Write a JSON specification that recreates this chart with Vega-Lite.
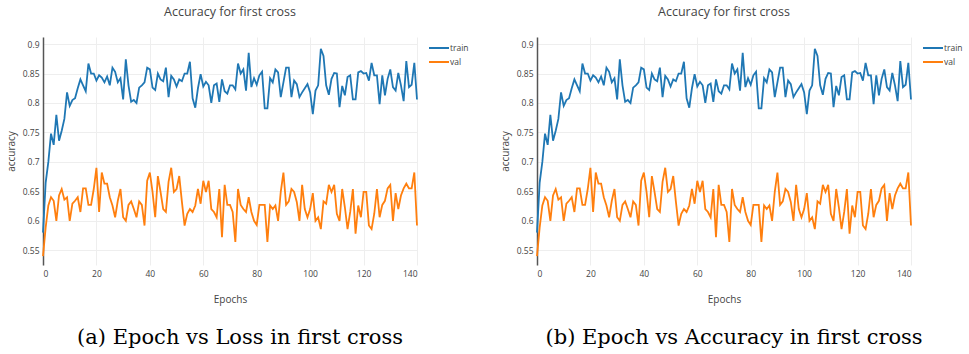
{
  "$schema": "https://vega.github.io/schema/vega-lite/v6.json",
  "background": "white",
  "padding": {"left": 6, "top": 5, "right": 0, "bottom": 0},
  "config": {
    "view": {"stroke": null},
    "font": "Open Sans",
    "axis": {"labelFont": "Open Sans", "labelFontSize": 8.5, "labelColor": "#444444", "titleFont": "Open Sans", "titleFontSize": 10, "titleFontWeight": "normal", "titleColor": "#444444", "gridColor": "#eeeeee", "gridWidth": 1, "ticks": false, "domain": false, "labelPadding": 4},
    "legend": {"title": null, "symbolType": "M-2,0H2", "symbolSize": 100, "symbolStrokeWidth": 2, "labelFont": "Open Sans", "labelFontSize": 8.5, "labelColor": "#444444", "offset": 7, "padding": 5, "rowPadding": 3, "labelOffset": 5},
    "title": {"font": "Open Sans", "fontSize": 12.5, "fontWeight": "normal", "color": "#444444", "offset": 19}
  },
  "datasets": {
    "acc": [
      {"epoch":0,"split":"train","accuracy":0.58},{"epoch":1,"split":"train","accuracy":0.665},{"epoch":2,"split":"train","accuracy":0.70},{"epoch":3,"split":"train","accuracy":0.748},{"epoch":4,"split":"train","accuracy":0.729},{"epoch":5,"split":"train","accuracy":0.78},{"epoch":6,"split":"train","accuracy":0.736},{"epoch":7,"split":"train","accuracy":0.753},{"epoch":8,"split":"train","accuracy":0.773},{"epoch":9,"split":"train","accuracy":0.818},
      {"epoch":10,"split":"train","accuracy":0.795},{"epoch":11,"split":"train","accuracy":0.805},{"epoch":12,"split":"train","accuracy":0.808},{"epoch":13,"split":"train","accuracy":0.825},{"epoch":14,"split":"train","accuracy":0.84},{"epoch":15,"split":"train","accuracy":0.83},{"epoch":16,"split":"train","accuracy":0.82},{"epoch":17,"split":"train","accuracy":0.867},{"epoch":18,"split":"train","accuracy":0.85},{"epoch":19,"split":"train","accuracy":0.85},
      {"epoch":20,"split":"train","accuracy":0.838},{"epoch":21,"split":"train","accuracy":0.847},{"epoch":22,"split":"train","accuracy":0.843},{"epoch":23,"split":"train","accuracy":0.835},{"epoch":24,"split":"train","accuracy":0.845},{"epoch":25,"split":"train","accuracy":0.83},{"epoch":26,"split":"train","accuracy":0.86},{"epoch":27,"split":"train","accuracy":0.853},{"epoch":28,"split":"train","accuracy":0.835},{"epoch":29,"split":"train","accuracy":0.842},
      {"epoch":30,"split":"train","accuracy":0.806},{"epoch":31,"split":"train","accuracy":0.874},{"epoch":32,"split":"train","accuracy":0.83},{"epoch":33,"split":"train","accuracy":0.802},{"epoch":34,"split":"train","accuracy":0.805},{"epoch":35,"split":"train","accuracy":0.80},{"epoch":36,"split":"train","accuracy":0.826},{"epoch":37,"split":"train","accuracy":0.83},{"epoch":38,"split":"train","accuracy":0.835},{"epoch":39,"split":"train","accuracy":0.86},
      {"epoch":40,"split":"train","accuracy":0.857},{"epoch":41,"split":"train","accuracy":0.826},{"epoch":42,"split":"train","accuracy":0.822},{"epoch":43,"split":"train","accuracy":0.85},{"epoch":44,"split":"train","accuracy":0.84},{"epoch":45,"split":"train","accuracy":0.837},{"epoch":46,"split":"train","accuracy":0.86},{"epoch":47,"split":"train","accuracy":0.81},{"epoch":48,"split":"train","accuracy":0.846},{"epoch":49,"split":"train","accuracy":0.84},
      {"epoch":50,"split":"train","accuracy":0.828},{"epoch":51,"split":"train","accuracy":0.84},{"epoch":52,"split":"train","accuracy":0.837},{"epoch":53,"split":"train","accuracy":0.85},{"epoch":54,"split":"train","accuracy":0.85},{"epoch":55,"split":"train","accuracy":0.87},{"epoch":56,"split":"train","accuracy":0.808},{"epoch":57,"split":"train","accuracy":0.792},{"epoch":58,"split":"train","accuracy":0.825},{"epoch":59,"split":"train","accuracy":0.849},
      {"epoch":60,"split":"train","accuracy":0.828},{"epoch":61,"split":"train","accuracy":0.836},{"epoch":62,"split":"train","accuracy":0.83},{"epoch":63,"split":"train","accuracy":0.80},{"epoch":64,"split":"train","accuracy":0.83},{"epoch":65,"split":"train","accuracy":0.833},{"epoch":66,"split":"train","accuracy":0.802},{"epoch":67,"split":"train","accuracy":0.84},{"epoch":68,"split":"train","accuracy":0.82},{"epoch":69,"split":"train","accuracy":0.816},
      {"epoch":70,"split":"train","accuracy":0.83},{"epoch":71,"split":"train","accuracy":0.83},{"epoch":72,"split":"train","accuracy":0.823},{"epoch":73,"split":"train","accuracy":0.867},{"epoch":74,"split":"train","accuracy":0.85},{"epoch":75,"split":"train","accuracy":0.857},{"epoch":76,"split":"train","accuracy":0.821},{"epoch":77,"split":"train","accuracy":0.885},{"epoch":78,"split":"train","accuracy":0.827},{"epoch":79,"split":"train","accuracy":0.842},
      {"epoch":80,"split":"train","accuracy":0.831},{"epoch":81,"split":"train","accuracy":0.847},{"epoch":82,"split":"train","accuracy":0.853},{"epoch":83,"split":"train","accuracy":0.791},{"epoch":84,"split":"train","accuracy":0.791},{"epoch":85,"split":"train","accuracy":0.842},{"epoch":86,"split":"train","accuracy":0.835},{"epoch":87,"split":"train","accuracy":0.857},{"epoch":88,"split":"train","accuracy":0.852},{"epoch":89,"split":"train","accuracy":0.81},
      {"epoch":90,"split":"train","accuracy":0.835},{"epoch":91,"split":"train","accuracy":0.86},{"epoch":92,"split":"train","accuracy":0.86},{"epoch":93,"split":"train","accuracy":0.81},{"epoch":94,"split":"train","accuracy":0.838},{"epoch":95,"split":"train","accuracy":0.832},{"epoch":96,"split":"train","accuracy":0.81},{"epoch":97,"split":"train","accuracy":0.818},{"epoch":98,"split":"train","accuracy":0.825},{"epoch":99,"split":"train","accuracy":0.832},
      {"epoch":100,"split":"train","accuracy":0.818},{"epoch":101,"split":"train","accuracy":0.781},{"epoch":102,"split":"train","accuracy":0.821},{"epoch":103,"split":"train","accuracy":0.83},{"epoch":104,"split":"train","accuracy":0.892},{"epoch":105,"split":"train","accuracy":0.88},{"epoch":106,"split":"train","accuracy":0.83},{"epoch":107,"split":"train","accuracy":0.814},{"epoch":108,"split":"train","accuracy":0.841},{"epoch":109,"split":"train","accuracy":0.851},
      {"epoch":110,"split":"train","accuracy":0.85},{"epoch":111,"split":"train","accuracy":0.793},{"epoch":112,"split":"train","accuracy":0.829},{"epoch":113,"split":"train","accuracy":0.813},{"epoch":114,"split":"train","accuracy":0.844},{"epoch":115,"split":"train","accuracy":0.847},{"epoch":116,"split":"train","accuracy":0.806},{"epoch":117,"split":"train","accuracy":0.806},{"epoch":118,"split":"train","accuracy":0.852},{"epoch":119,"split":"train","accuracy":0.854},
      {"epoch":120,"split":"train","accuracy":0.85},{"epoch":121,"split":"train","accuracy":0.851},{"epoch":122,"split":"train","accuracy":0.838},{"epoch":123,"split":"train","accuracy":0.868},{"epoch":124,"split":"train","accuracy":0.847},{"epoch":125,"split":"train","accuracy":0.847},{"epoch":126,"split":"train","accuracy":0.798},{"epoch":127,"split":"train","accuracy":0.847},{"epoch":128,"split":"train","accuracy":0.813},{"epoch":129,"split":"train","accuracy":0.841},
      {"epoch":130,"split":"train","accuracy":0.857},{"epoch":131,"split":"train","accuracy":0.827},{"epoch":132,"split":"train","accuracy":0.821},{"epoch":133,"split":"train","accuracy":0.851},{"epoch":134,"split":"train","accuracy":0.83},{"epoch":135,"split":"train","accuracy":0.803},{"epoch":136,"split":"train","accuracy":0.871},{"epoch":137,"split":"train","accuracy":0.827},{"epoch":138,"split":"train","accuracy":0.831},{"epoch":139,"split":"train","accuracy":0.868},
      {"epoch":140,"split":"train","accuracy":0.806},
      {"epoch":0,"split":"val","accuracy":0.54},{"epoch":1,"split":"val","accuracy":0.589},{"epoch":2,"split":"val","accuracy":0.626},{"epoch":3,"split":"val","accuracy":0.64},{"epoch":4,"split":"val","accuracy":0.634},{"epoch":5,"split":"val","accuracy":0.60},{"epoch":6,"split":"val","accuracy":0.643},{"epoch":7,"split":"val","accuracy":0.654},{"epoch":8,"split":"val","accuracy":0.636},{"epoch":9,"split":"val","accuracy":0.64},
      {"epoch":10,"split":"val","accuracy":0.60},{"epoch":11,"split":"val","accuracy":0.629},{"epoch":12,"split":"val","accuracy":0.634},{"epoch":13,"split":"val","accuracy":0.64},{"epoch":14,"split":"val","accuracy":0.615},{"epoch":15,"split":"val","accuracy":0.655},{"epoch":16,"split":"val","accuracy":0.655},{"epoch":17,"split":"val","accuracy":0.627},{"epoch":18,"split":"val","accuracy":0.627},{"epoch":19,"split":"val","accuracy":0.654},
      {"epoch":20,"split":"val","accuracy":0.69},{"epoch":21,"split":"val","accuracy":0.615},{"epoch":22,"split":"val","accuracy":0.682},{"epoch":23,"split":"val","accuracy":0.663},{"epoch":24,"split":"val","accuracy":0.663},{"epoch":25,"split":"val","accuracy":0.64},{"epoch":26,"split":"val","accuracy":0.626},{"epoch":27,"split":"val","accuracy":0.606},{"epoch":28,"split":"val","accuracy":0.634},{"epoch":29,"split":"val","accuracy":0.654},
      {"epoch":30,"split":"val","accuracy":0.606},{"epoch":31,"split":"val","accuracy":0.60},{"epoch":32,"split":"val","accuracy":0.627},{"epoch":33,"split":"val","accuracy":0.633},{"epoch":34,"split":"val","accuracy":0.62},{"epoch":35,"split":"val","accuracy":0.606},{"epoch":36,"split":"val","accuracy":0.633},{"epoch":37,"split":"val","accuracy":0.627},{"epoch":38,"split":"val","accuracy":0.592},{"epoch":39,"split":"val","accuracy":0.668},
      {"epoch":40,"split":"val","accuracy":0.682},{"epoch":41,"split":"val","accuracy":0.649},{"epoch":42,"split":"val","accuracy":0.606},{"epoch":43,"split":"val","accuracy":0.676},{"epoch":44,"split":"val","accuracy":0.649},{"epoch":45,"split":"val","accuracy":0.62},{"epoch":46,"split":"val","accuracy":0.615},{"epoch":47,"split":"val","accuracy":0.666},{"epoch":48,"split":"val","accuracy":0.69},{"epoch":49,"split":"val","accuracy":0.649},
      {"epoch":50,"split":"val","accuracy":0.654},{"epoch":51,"split":"val","accuracy":0.676},{"epoch":52,"split":"val","accuracy":0.632},{"epoch":53,"split":"val","accuracy":0.592},{"epoch":54,"split":"val","accuracy":0.612},{"epoch":55,"split":"val","accuracy":0.62},{"epoch":56,"split":"val","accuracy":0.615},{"epoch":57,"split":"val","accuracy":0.626},{"epoch":58,"split":"val","accuracy":0.654},{"epoch":59,"split":"val","accuracy":0.629},
      {"epoch":60,"split":"val","accuracy":0.668},{"epoch":61,"split":"val","accuracy":0.649},{"epoch":62,"split":"val","accuracy":0.668},{"epoch":63,"split":"val","accuracy":0.62},{"epoch":64,"split":"val","accuracy":0.615},{"epoch":65,"split":"val","accuracy":0.606},{"epoch":66,"split":"val","accuracy":0.654},{"epoch":67,"split":"val","accuracy":0.572},{"epoch":68,"split":"val","accuracy":0.661},{"epoch":69,"split":"val","accuracy":0.627},
      {"epoch":70,"split":"val","accuracy":0.627},{"epoch":71,"split":"val","accuracy":0.615},{"epoch":72,"split":"val","accuracy":0.564},{"epoch":73,"split":"val","accuracy":0.654},{"epoch":74,"split":"val","accuracy":0.627},{"epoch":75,"split":"val","accuracy":0.62},{"epoch":76,"split":"val","accuracy":0.615},{"epoch":77,"split":"val","accuracy":0.64},{"epoch":78,"split":"val","accuracy":0.615},{"epoch":79,"split":"val","accuracy":0.60},
      {"epoch":80,"split":"val","accuracy":0.593},{"epoch":81,"split":"val","accuracy":0.627},{"epoch":82,"split":"val","accuracy":0.627},{"epoch":83,"split":"val","accuracy":0.627},{"epoch":84,"split":"val","accuracy":0.564},{"epoch":85,"split":"val","accuracy":0.626},{"epoch":86,"split":"val","accuracy":0.62},{"epoch":87,"split":"val","accuracy":0.626},{"epoch":88,"split":"val","accuracy":0.60},{"epoch":89,"split":"val","accuracy":0.649},
      {"epoch":90,"split":"val","accuracy":0.682},{"epoch":91,"split":"val","accuracy":0.627},{"epoch":92,"split":"val","accuracy":0.633},{"epoch":93,"split":"val","accuracy":0.654},{"epoch":94,"split":"val","accuracy":0.649},{"epoch":95,"split":"val","accuracy":0.632},{"epoch":96,"split":"val","accuracy":0.60},{"epoch":97,"split":"val","accuracy":0.661},{"epoch":98,"split":"val","accuracy":0.62},{"epoch":99,"split":"val","accuracy":0.606},
      {"epoch":100,"split":"val","accuracy":0.62},{"epoch":101,"split":"val","accuracy":0.647},{"epoch":102,"split":"val","accuracy":0.60},{"epoch":103,"split":"val","accuracy":0.606},{"epoch":104,"split":"val","accuracy":0.586},{"epoch":105,"split":"val","accuracy":0.633},{"epoch":106,"split":"val","accuracy":0.629},{"epoch":107,"split":"val","accuracy":0.661},{"epoch":108,"split":"val","accuracy":0.649},{"epoch":109,"split":"val","accuracy":0.661},
      {"epoch":110,"split":"val","accuracy":0.612},{"epoch":111,"split":"val","accuracy":0.60},{"epoch":112,"split":"val","accuracy":0.654},{"epoch":113,"split":"val","accuracy":0.623},{"epoch":114,"split":"val","accuracy":0.586},{"epoch":115,"split":"val","accuracy":0.615},{"epoch":116,"split":"val","accuracy":0.654},{"epoch":117,"split":"val","accuracy":0.578},{"epoch":118,"split":"val","accuracy":0.626},{"epoch":119,"split":"val","accuracy":0.606},
      {"epoch":120,"split":"val","accuracy":0.649},{"epoch":121,"split":"val","accuracy":0.649},{"epoch":122,"split":"val","accuracy":0.592},{"epoch":123,"split":"val","accuracy":0.586},{"epoch":124,"split":"val","accuracy":0.612},{"epoch":125,"split":"val","accuracy":0.654},{"epoch":126,"split":"val","accuracy":0.606},{"epoch":127,"split":"val","accuracy":0.627},{"epoch":128,"split":"val","accuracy":0.634},{"epoch":129,"split":"val","accuracy":0.655},
      {"epoch":130,"split":"val","accuracy":0.661},{"epoch":131,"split":"val","accuracy":0.60},{"epoch":132,"split":"val","accuracy":0.647},{"epoch":133,"split":"val","accuracy":0.62},{"epoch":134,"split":"val","accuracy":0.643},{"epoch":135,"split":"val","accuracy":0.655},{"epoch":136,"split":"val","accuracy":0.663},{"epoch":137,"split":"val","accuracy":0.655},{"epoch":138,"split":"val","accuracy":0.655},{"epoch":139,"split":"val","accuracy":0.682},
      {"epoch":140,"split":"val","accuracy":0.592}
    ]
  },
  "spacing": 26,
  "resolve": {"legend": {"color": "independent"}},
  "hconcat": [
    {
      "title": {"text": "(a) Epoch vs Loss in first cross", "orient": "bottom", "anchor": "middle", "font": "DejaVu Serif", "fontSize": 21, "fontWeight": "normal", "color": "#000000", "offset": 22},
      "resolve": {"legend": {"color": "independent"}},
      "vconcat": [
        {
          "title": "Accuracy for first cross",
          "width": 374,
          "height": 228,
          "data": {"name": "acc"},
          "mark": {"type": "line", "strokeWidth": 1.8},
          "encoding": {
            "x": {"field": "epoch", "type": "quantitative", "scale": {"domain": [0, 140], "nice": false}, "axis": {"title": "Epochs", "values": [0, 20, 40, 60, 80, 100, 120, 140], "titlePadding": 17}},
            "y": {"field": "accuracy", "type": "quantitative", "scale": {"domain": [0.525, 0.912], "nice": false, "zero": false}, "axis": {"title": "accuracy", "values": [0.55, 0.6, 0.65, 0.7, 0.75, 0.8, 0.85, 0.9], "format": ".2~f", "domain": true, "domainColor": "#555555", "domainWidth": 1.5, "titlePadding": 6}},
            "color": {"field": "split", "type": "nominal", "scale": {"domain": ["train", "val"], "range": ["#1f77b4", "#ff7f0e"]}}
          }
        }
      ]
    },
    {
      "title": {"text": "(b) Epoch vs Accuracy in first cross", "orient": "bottom", "anchor": "middle", "font": "DejaVu Serif", "fontSize": 21, "fontWeight": "normal", "color": "#000000", "offset": 22},
      "resolve": {"legend": {"color": "independent"}},
      "vconcat": [
        {
          "title": "Accuracy for first cross",
          "width": 374,
          "height": 228,
          "data": {"name": "acc"},
          "mark": {"type": "line", "strokeWidth": 1.8},
          "encoding": {
            "x": {"field": "epoch", "type": "quantitative", "scale": {"domain": [0, 140], "nice": false}, "axis": {"title": "Epochs", "values": [0, 20, 40, 60, 80, 100, 120, 140], "titlePadding": 17}},
            "y": {"field": "accuracy", "type": "quantitative", "scale": {"domain": [0.525, 0.912], "nice": false, "zero": false}, "axis": {"title": "accuracy", "values": [0.55, 0.6, 0.65, 0.7, 0.75, 0.8, 0.85, 0.9], "format": ".2~f", "domain": true, "domainColor": "#555555", "domainWidth": 1.5, "titlePadding": 6}},
            "color": {"field": "split", "type": "nominal", "scale": {"domain": ["train", "val"], "range": ["#1f77b4", "#ff7f0e"]}}
          }
        }
      ]
    }
  ]
}
